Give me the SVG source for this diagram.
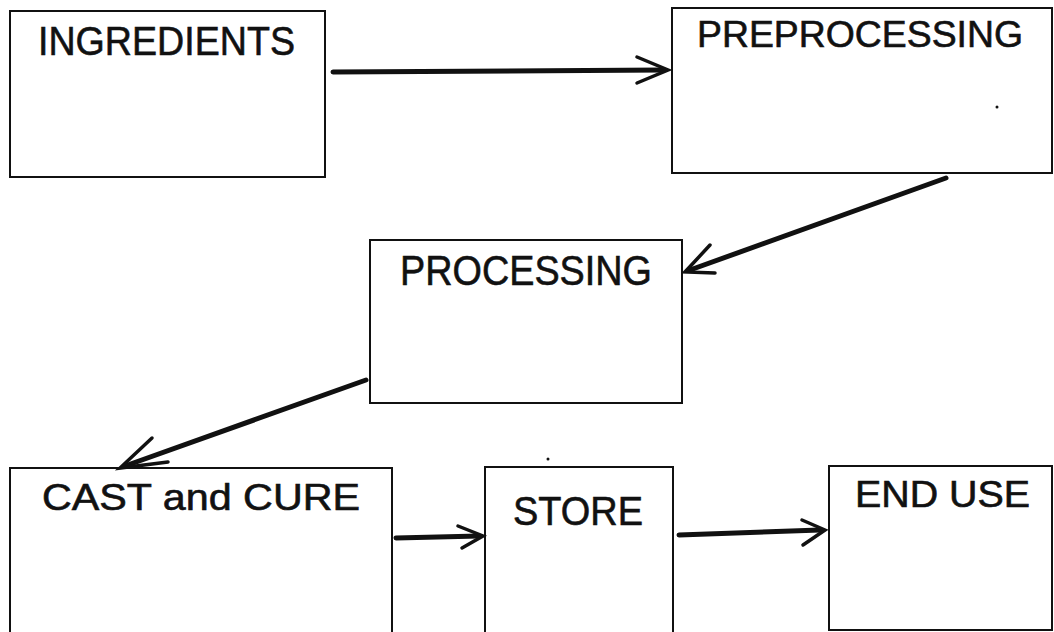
<svg xmlns="http://www.w3.org/2000/svg" width="1054" height="632" viewBox="0 0 1054 632">
<style>
.box{fill:#fff;stroke:#111;stroke-width:2}
.lbl{font-family:"Liberation Sans",Arial,sans-serif;fill:#111;stroke:#111;stroke-width:0.6}
.conn{fill:none;stroke:#111;stroke-width:5;stroke-linecap:round}
.head{fill:none;stroke:#111;stroke-width:3.5;stroke-linecap:round;stroke-linejoin:miter}
</style>
<rect width="1054" height="632" fill="#fff"/>
<g id="ingredients">
<rect class="box" x="10" y="11" width="315" height="166"/>
<text class="lbl" x="38" y="55" font-size="41" textLength="257" lengthAdjust="spacingAndGlyphs">INGREDIENTS</text>
</g>
<g id="preprocessing">
<rect class="box" x="672" y="8" width="380" height="165"/>
<text class="lbl" x="697" y="47" font-size="37" textLength="326" lengthAdjust="spacingAndGlyphs">PREPROCESSING</text>
<circle cx="997" cy="107" r="1.5" fill="#111"/>
</g>
<g id="processing">
<rect class="box" x="370" y="240" width="312" height="163"/>
<text class="lbl" x="400" y="285" font-size="42" textLength="252" lengthAdjust="spacingAndGlyphs">PROCESSING</text>
</g>
<g id="cast-and-cure">
<rect class="box" x="10" y="468" width="382" height="170"/>
<text class="lbl" x="42" y="510" font-size="36" textLength="318" lengthAdjust="spacingAndGlyphs">CAST and CURE</text>
</g>
<g id="store">
<rect class="box" x="485" y="467" width="188" height="171"/>
<text class="lbl" x="513" y="525" font-size="40" textLength="130" lengthAdjust="spacingAndGlyphs">STORE</text>
</g>
<g id="end-use">
<rect class="box" x="829" y="466" width="223" height="164"/>
<text class="lbl" x="855" y="507" font-size="36" textLength="175" lengthAdjust="spacingAndGlyphs">END USE</text>
</g>
<circle cx="548" cy="459" r="1.5" fill="#111"/>
<g id="connectors">
<line class="conn" x1="333" y1="72" x2="664" y2="70"/>
<path class="head" d="M637,57 L668,70 L637,83"/>
<line class="conn" x1="946" y1="178" x2="690" y2="270"/>
<path class="head" d="M710,245 L685,272 L715,273"/>
<line class="conn" x1="366" y1="380" x2="125" y2="466"/>
<path class="head" d="M152,438 L120,468 L168,462"/>
<line class="conn" x1="396" y1="538" x2="479" y2="536"/>
<path class="head" d="M458,526 L483,536 L462,548"/>
<line class="conn" x1="679" y1="535" x2="820" y2="530"/>
<path class="head" d="M802,520 L825,530 L803,545"/>
</g>
</svg>
